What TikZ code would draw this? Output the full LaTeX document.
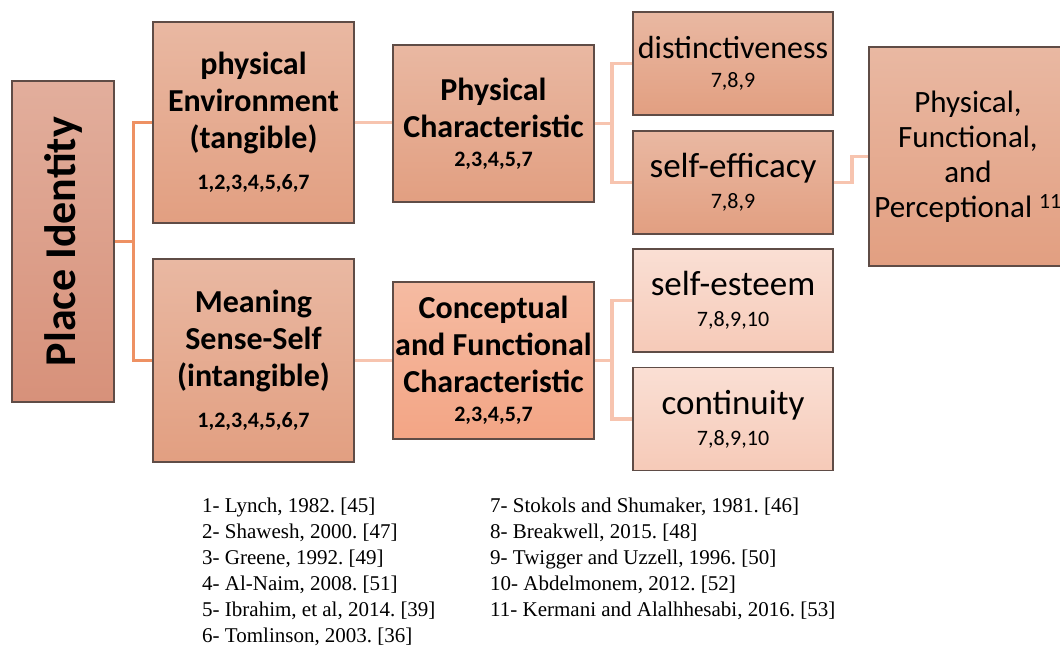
\documentclass[tikz,border=0pt]{standalone}
\usepackage{fontspec}
\setmainfont{Carlito}
\newfontfamily\legfont{Liberation Serif}
\usepackage{tikz}

\definecolor{boxtop}{HTML}{E9B8A2}
\definecolor{boxbot}{HTML}{E29F81}
\definecolor{pitop}{HTML}{E2AE9C}
\definecolor{pibot}{HTML}{D7917A}
\definecolor{orgtop}{HTML}{F5BBA2}
\definecolor{orgbot}{HTML}{F3A585}
\definecolor{pinktop}{HTML}{FADFD4}
\definecolor{pinkbot}{HTML}{F6CAB8}
\definecolor{frame}{HTML}{5F4C46}
\definecolor{linkdark}{HTML}{EE9163}
\definecolor{linklight}{HTML}{F7C4AF}

\newcommand{\numsmall}{\fontsize{22}{24}\selectfont}
\newcommand{\numbold}{\fontsize{22}{24}\selectfont\bfseries}

\tikzset{
  box/.style={draw=frame, line width=1.3pt, top color=boxtop, bottom color=boxbot,
    align=center, inner sep=0pt, minimum width=201, minimum height=157},
  headbox/.style={box, font=\fontsize{32}{37}\selectfont\bfseries},
  leafbox/.style={box, minimum width=200, minimum height=103,
    font=\fontsize{35}{36}\selectfont},
  pinkbox/.style={leafbox, top color=pinktop, bottom color=pinkbot},
  linkA/.style={draw=linkdark, line width=3pt},
  linkB/.style={draw=linklight, line width=3.5pt},
  legend/.style={font=\legfont\fontsize{21}{26}\selectfont, align=left, inner sep=0pt}
}

\begin{document}
\frenchspacing
\begin{tikzpicture}[x=1pt,y=-1pt]
\clip (0,0) rectangle (1060,652);
\useasboundingbox (0,0) rectangle (1060,652);

\node[box, rotate=90, top color=pitop, bottom color=pibot, minimum width=321, minimum height=102,
  font=\fontsize{44}{48}\selectfont\bfseries] (pi) at (63,241.5) {Place Identity};

\node[headbox, minimum height=201] (env) at (253.5,122.5)
  {physical\\Environment\\(tangible)\\[4pt]{\numbold 1,2,3,4,5,6,7}};
\node[headbox, minimum height=203] (mean) at (253.5,360.5)
  {Meaning\\Sense-Self\\(intangible)\\[4pt]{\numbold 1,2,3,4,5,6,7}};

\node[headbox] (phys) at (493.5,123.5)
  {Physical\\Characteristic\\[-8pt]{\numbold 2,3,4,5,7}};
\node[headbox, top color=orgtop, bottom color=orgbot] (conc) at (493.5,360.5)
  {Conceptual\\and Functional\\Characteristic\\[-8pt]{\numbold 2,3,4,5,7}};

\node[leafbox, font=\fontsize{32}{32}\selectfont] (dist) at (733,63.5)
  {distinctiveness\\[-3pt]{\numsmall 7,8,9}};
\node[leafbox] (eff) at (733,182.5) {self-efficacy\\[-5pt]{\numsmall 7,8,9}};
\node[pinkbox] (est) at (733,300.5) {self-esteem\\[-5pt]{\numsmall 7,8,9,10}};
\node[pinkbox] (cont) at (733,419) {continuity\\[-5pt]{\numsmall 7,8,9,10}};

\node[box, minimum width=198, minimum height=219, font=\fontsize{31}{35}\selectfont] (pfp) at (968,156.5)
  {Physical,\\Functional,\\and\\Perceptional \textsuperscript{11}};

\coordinate (j1) at (133,241.5);
\draw[linkA] (pi.south) -- (j1) |- (env.west);
\draw[linkA] (j1) |- (mean.west);
\draw[linkB] (env.east) -- (env.east -| phys.west);
\draw[linkB] (mean.east) -- (mean.east -| conc.west);
\coordinate (j2) at (612,123.5);
\draw[linkB] (phys.east) -- (j2) |- (dist.west);
\draw[linkB] (j2) |- (eff.west);
\coordinate (j3) at (612,360.5);
\draw[linkB] (conc.east) -- (j3) |- (est.west);
\draw[linkB] (j3) |- (cont.west);
\coordinate (j4) at (852,182.5);
\draw[linkB] (eff.east) -- (j4) |- (pfp.west);

\node[legend, anchor=north west] (refs1) at (202,498)
  {1- Lynch, 1982. [45]\\2- Shawesh, 2000. [47]\\3- Greene, 1992. [49]\\4- Al-Naim, 2008. [51]\\5- Ibrahim, et al, 2014. [39]\\6- Tomlinson, 2003. [36]};
\node[legend, anchor=north west] (refs2) at (490,498)
  {7- Stokols and Shumaker, 1981. [46]\\8- Breakwell, 2015. [48]\\9- Twigger and Uzzell, 1996. [50]\\10- Abdelmonem, 2012. [52]\\11- Kermani and Alalhhesabi, 2016. [53]};
\end{tikzpicture}
\end{document}
